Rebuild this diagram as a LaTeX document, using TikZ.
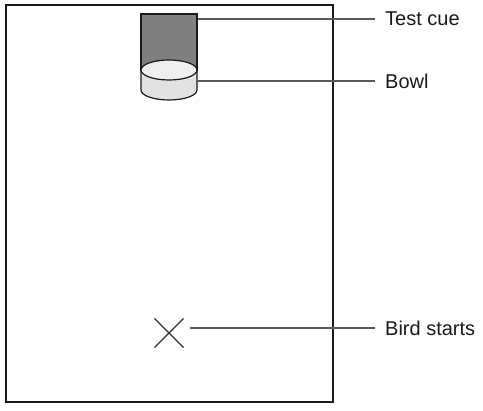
\documentclass[tikz,border=0pt]{standalone}
\usepackage{fontspec}
\setmainfont{Liberation Sans}
\usetikzlibrary{positioning}
\usetikzlibrary{shapes.misc}
\definecolor{cuegrey}{HTML}{7F7F7F}
\definecolor{bowlgrey}{HTML}{E2E2E2}
\definecolor{bowltop}{HTML}{EFEFEF}
\definecolor{inkgrey}{HTML}{1A1A1A}

\begin{document}
\begin{tikzpicture}[x=1pt, y=-1pt,
        arena/.style={draw=inkgrey, line width=2pt},
        cue/.style={draw=inkgrey, fill=cuegrey, line width=1.2pt,
          minimum width=56pt, minimum height=56pt, inner sep=0pt},
        bowlside/.style={draw=inkgrey, fill=bowlgrey, line width=1.2pt},
        bowlrim/.style={draw=inkgrey, fill=bowltop, line width=1.2pt},
        start/.style={cross out, draw=inkgrey!90, line width=1.2pt,
          minimum size=28pt, inner sep=0pt},
        lbl/.style={font=\fontsize{20}{24}\selectfont, text=inkgrey,
          anchor=west, inner sep=0pt},
        lead/.style={draw=black!65, line width=1.2pt},
      ]
      \useasboundingbox (0,0) rectangle (483,411);

      % arena
      \draw[arena] (6,5) rectangle (333,402);

      % cue
      \node[cue] (cue) at (169,42) {};

      % bowl
      \filldraw[bowlside] (141,70) -- (141,90)
        arc[start angle=180, end angle=360, x radius=28pt, y radius=10pt]
        -- (197,70) -- cycle;
      \filldraw[bowlrim] (169,70) ellipse[x radius=28pt, y radius=10pt];
      \coordinate (bowl) at (197,81);

      % bird start
      \node[start] (bird) at (169,333) {};

      % labels
      \node[lbl] (cuelbl) at (385,19) {Test cue};
      \node[lbl] (bowllbl) at (385,81) {Bowl};
      \node[lbl] (birdlbl) at (385,328) {Bird starts};

      \draw[lead] (cue.east |- cuelbl) -- ([xshift=-10pt]cuelbl.west);
      \draw[lead] (bowl) -- ([xshift=-10pt]bowllbl.west);
      \draw[lead] ([xshift=6pt]bird.east |- birdlbl) -- ([xshift=-10pt]birdlbl.west);

\end{tikzpicture}
\end{document}
